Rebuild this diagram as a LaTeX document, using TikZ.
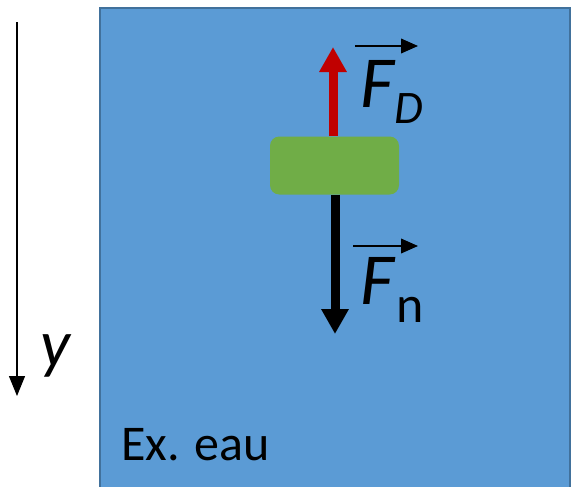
\documentclass[tikz,border=0pt]{standalone}
\usepackage{fontspec}
\setmainfont{Carlito}
\usetikzlibrary{
    arrows.meta % For arrow tips
}
\definecolor{eau}{HTML}{5B9BD5}
\definecolor{bord}{HTML}{41719C}
\definecolor{vert}{HTML}{70AD47}
\definecolor{rouge}{HTML}{C00000}

\begin{document}
\begin{tikzpicture}[
    x=0.75pt, y=-0.75pt, % pixel units, y pointing down
    force/.style={line width=6.75pt, -{Triangle[length=18.75pt, width=19.5pt]}}, % Thick force arrows
    vecarrow/.style={line width=1.25pt, -{Triangle[length=12.75pt, width=11pt]}}, % Vector arrow over F
    axis/.style={line width=0.9pt, -{Triangle[length=15pt, width=12pt]}}, % y axis
    block/.style={fill=vert, rounded corners=7pt, minimum width=96.75pt, minimum height=43.5pt, inner sep=0pt},
    lbl/.style={inner sep=0pt, anchor=base west}
]
    \useasboundingbox (0,0) rectangle (571,486);

    % Water
    \draw[fill=eau, draw=bord, line width=1.5pt] (100,8) rectangle (570,495);
    \node[lbl, font=\fontsize{37.5}{40}\selectfont] (eaulbl) at (121,460) {Ex. eau};

    % y axis
    \coordinate (axtop) at (17,22);
    \coordinate (axbot) at (17,396);
    \draw[axis] (axtop) -- (axbot);
    \node[lbl, font=\fontsize{50}{54}\selectfont\itshape] (ylbl) at (40,366) {y};

    % Block and forces
    \node[block] (bloc) at (334.5,165.5) {};
    \coordinate (tipD) at (333,47);
    \coordinate (tipN) at (335,334);
    \draw[force, rouge] (bloc.north -| tipD) -- (tipD);
    \draw[force, black] (bloc.south -| tipN) -- (tipN);

    % Label F_D
    \coordinate (vDa) at (355,46);
    \coordinate (vDb) at (418,46);
    \draw[vecarrow] (vDa) -- (vDb);
    \node[lbl, font=\fontsize{55}{58}\selectfont\itshape] (FD) at (360,107) {F};
    \node[lbl, font=\fontsize{35}{38}\selectfont\itshape] (subD) at (394,123) {D};

    % Label F_n
    \coordinate (vNa) at (353,246);
    \coordinate (vNb) at (418,246);
    \draw[vecarrow] (vNa) -- (vNb);
    \node[lbl, font=\fontsize{55}{58}\selectfont\itshape] (Fn) at (360,304) {F};
    \node[lbl, font=\fontsize{39}{42}\selectfont] (subn) at (396,322) {n};

\end{tikzpicture}
\end{document}
